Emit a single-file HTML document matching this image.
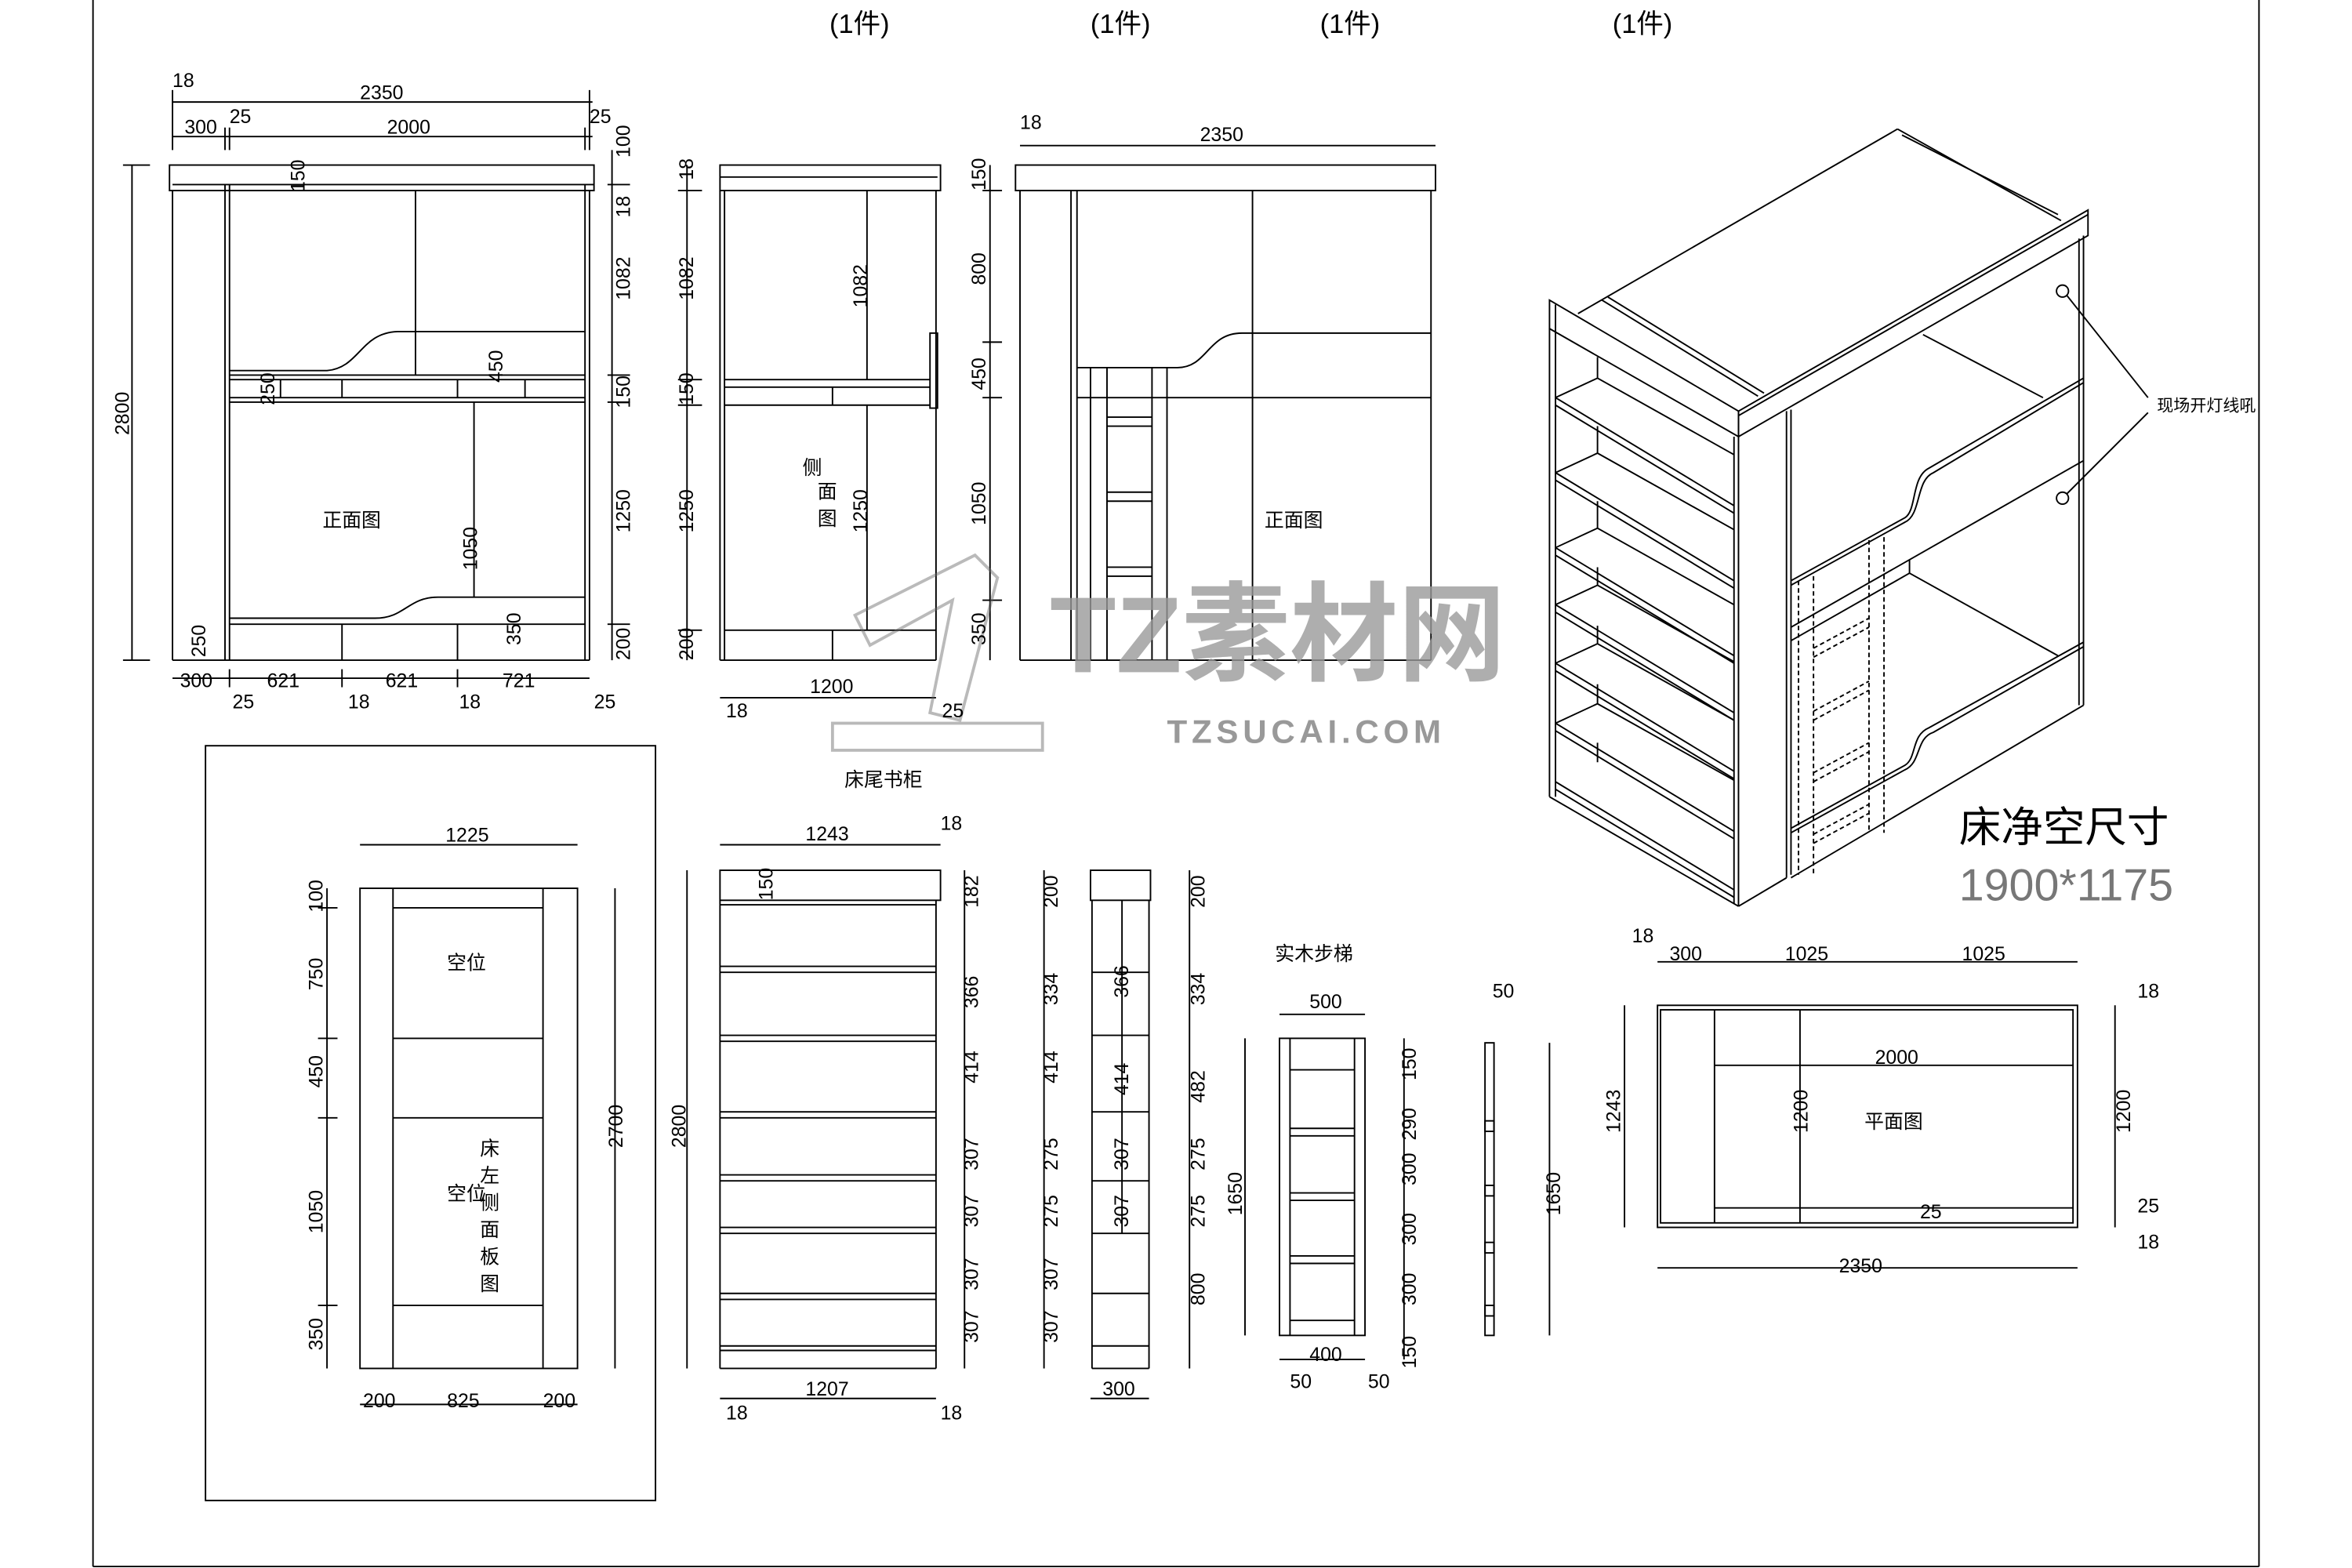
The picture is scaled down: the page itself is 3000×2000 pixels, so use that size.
<!DOCTYPE html>
<html><head><meta charset="utf-8"><style>
html,body{margin:0;padding:0;background:#fff;}
svg{display:block;}
text{font-family:"Liberation Sans","Noto Sans CJK SC",sans-serif;fill:#000;}
</style></head><body>
<svg width="3000" height="2000" viewBox="0 0 1568 1045" preserveAspectRatio="none" xmlns="http://www.w3.org/2000/svg">
<g fill="none" stroke="#000" stroke-width="1">
<!-- border -->
<line x1="62" y1="0" x2="62" y2="1044"/><line x1="1506" y1="0" x2="1506" y2="1044"/><line x1="62" y1="1044" x2="1506" y2="1044"/>

<!-- FRONT VIEW 1 -->
<rect x="113" y="110" width="283" height="17"/><line x1="115" y1="123" x2="396" y2="123"/>
<line x1="115" y1="127" x2="115" y2="440"/><line x1="150" y1="123" x2="150" y2="440"/><line x1="153" y1="123" x2="153" y2="440"/>
<line x1="390" y1="123" x2="390" y2="440"/><line x1="393" y1="127" x2="393" y2="440"/>
<line x1="115" y1="440" x2="393" y2="440"/>
<line x1="277" y1="127" x2="277" y2="250"/>
<path d="M153 247 H218 C240 245 240 222 265 221 H390"/>
<line x1="153" y1="250" x2="390" y2="250"/><line x1="153" y1="253" x2="390" y2="253"/><line x1="153" y1="265" x2="390" y2="265"/><line x1="153" y1="268" x2="390" y2="268"/>
<line x1="187" y1="253" x2="187" y2="265"/><line x1="228" y1="253" x2="228" y2="265"/><line x1="305" y1="253" x2="305" y2="265"/><line x1="350" y1="253" x2="350" y2="265"/>
<line x1="316" y1="268" x2="316" y2="398"/>
<path d="M153 412 H250 C270 412 272 398 292 398 H390"/>
<line x1="153" y1="416" x2="390" y2="416"/><line x1="228" y1="416" x2="228" y2="440"/><line x1="305" y1="416" x2="305" y2="440"/>
<line x1="115" y1="68" x2="395" y2="68"/><line x1="115" y1="91" x2="395" y2="91"/>
<line x1="115" y1="60" x2="115" y2="100"/><line x1="150" y1="85" x2="150" y2="100"/><line x1="153" y1="85" x2="153" y2="100"/><line x1="390" y1="85" x2="390" y2="100"/><line x1="393" y1="60" x2="393" y2="100"/>
<line x1="88" y1="110" x2="88" y2="440"/><line x1="82" y1="110" x2="100" y2="110"/><line x1="82" y1="440" x2="100" y2="440"/>
<line x1="408" y1="100" x2="408" y2="440"/><line x1="405" y1="123" x2="420" y2="123"/><line x1="405" y1="250" x2="420" y2="250"/><line x1="405" y1="268" x2="420" y2="268"/><line x1="405" y1="416" x2="420" y2="416"/>
<line x1="115" y1="452" x2="393" y2="452"/><line x1="153" y1="446" x2="153" y2="458"/><line x1="228" y1="446" x2="228" y2="458"/><line x1="305" y1="446" x2="305" y2="458"/>

<!-- SIDE VIEW -->
<rect x="480" y="110" width="147" height="17"/><line x1="480" y1="118" x2="625" y2="118"/>
<line x1="480" y1="127" x2="480" y2="440"/><line x1="483" y1="127" x2="483" y2="440"/><line x1="624" y1="127" x2="624" y2="440"/>
<line x1="480" y1="440" x2="624" y2="440"/>
<line x1="578" y1="127" x2="578" y2="253"/><line x1="578" y1="270" x2="578" y2="420"/>
<line x1="483" y1="253" x2="620" y2="253"/><line x1="483" y1="258" x2="620" y2="258"/><line x1="483" y1="270" x2="620" y2="270"/>
<line x1="555" y1="258" x2="555" y2="270"/>
<rect x="620" y="222" width="5" height="50"/>
<line x1="483" y1="420" x2="624" y2="420"/><line x1="555" y1="420" x2="555" y2="440"/>
<line x1="458" y1="110" x2="458" y2="440"/><line x1="452" y1="127" x2="468" y2="127"/><line x1="452" y1="253" x2="468" y2="253"/><line x1="452" y1="270" x2="468" y2="270"/><line x1="452" y1="420" x2="468" y2="420"/>
<line x1="480" y1="465" x2="624" y2="465"/>

<!-- FRONT VIEW 2 -->
<rect x="677" y="110" width="280" height="17"/>
<line x1="680" y1="127" x2="680" y2="440"/><line x1="714" y1="127" x2="714" y2="440"/><line x1="718" y1="127" x2="718" y2="440"/>
<line x1="954" y1="127" x2="954" y2="440"/><line x1="680" y1="440" x2="954" y2="440"/>
<line x1="835" y1="127" x2="835" y2="440"/>
<path d="M718 245 H785 C805 245 805 222 828 222 H954"/>
<line x1="718" y1="265" x2="954" y2="265"/>
<line x1="727" y1="245" x2="727" y2="440"/><line x1="738" y1="245" x2="738" y2="440"/><line x1="768" y1="245" x2="768" y2="440"/><line x1="778" y1="245" x2="778" y2="440"/>
<line x1="738" y1="278" x2="768" y2="278"/><line x1="738" y1="284" x2="768" y2="284"/>
<line x1="738" y1="328" x2="768" y2="328"/><line x1="738" y1="334" x2="768" y2="334"/>
<line x1="738" y1="378" x2="768" y2="378"/><line x1="738" y1="384" x2="768" y2="384"/>
<line x1="660" y1="110" x2="660" y2="440"/><line x1="655" y1="127" x2="668" y2="127"/><line x1="655" y1="228" x2="668" y2="228"/><line x1="655" y1="265" x2="668" y2="265"/><line x1="655" y1="400" x2="668" y2="400"/>
<line x1="680" y1="97" x2="957" y2="97"/>

<!-- ISOMETRIC -->
<!-- top face -->
<line x1="1052" y1="209" x2="1265" y2="86"/><line x1="1265" y1="86" x2="1374" y2="147"/>
<line x1="1268" y1="90" x2="1372" y2="143"/>
<line x1="1068" y1="200" x2="1172" y2="264"/><line x1="1072" y1="198" x2="1176" y2="262"/>
<!-- front slab -->
<polygon points="1033,200 1159,274 1159,291 1033,219"/>
<line x1="1037" y1="219" x2="1037" y2="203"/>
<!-- right slab -->
<polygon points="1159,274 1392,140 1392,157 1159,291"/>
<line x1="1159" y1="277" x2="1392" y2="143"/>
<!-- bookcase -->
<line x1="1033" y1="219" x2="1033" y2="531"/><line x1="1037" y1="219" x2="1037" y2="531"/>
<line x1="1033" y1="531" x2="1159" y2="604"/>
<line x1="1159" y1="291" x2="1159" y2="604"/><line x1="1156" y1="291" x2="1156" y2="602"/>
<g>
<path d="M1037 265 L1156 337 M1037 270 L1156 342 M1037 265 L1065 252 L1156 303 M1065 252 V238"/>
<path d="M1037 315 L1156 387 M1037 320 L1156 392 M1037 315 L1065 302 L1156 353 M1065 302 V284"/>
<path d="M1037 365 L1156 437 M1037 370 L1156 442 M1037 365 L1065 352 L1156 403 M1065 352 V334"/>
<path d="M1037 403 L1156 475 M1037 408 L1156 480 M1037 403 L1065 390 L1156 441 M1065 390 V378"/>
<path d="M1037 442 L1156 514 M1037 447 L1156 519 M1037 442 L1065 429 L1156 480 M1065 429 V417"/>
<path d="M1037 482 L1156 554 M1037 487 L1156 559 M1037 482 L1065 469 L1156 520 M1065 469 V456"/>
<path d="M1037 521 L1156 593 M1037 526 L1156 598 M1065 508 V495"/>
</g>
<!-- side panel -->
<line x1="1191" y1="274" x2="1191" y2="585"/><line x1="1194" y1="273" x2="1194" y2="583"/>
<line x1="1159" y1="604" x2="1191" y2="585"/>
<line x1="1386" y1="159" x2="1386" y2="470"/><line x1="1389" y1="157" x2="1389" y2="470"/>
<!-- upper rail -->
<path d="M1194 387 L1270 345 C1278 340 1274 318 1286 312 L1389 252"/>
<path d="M1194 390 L1270 348 C1281 343 1277 320 1289 315 L1389 255"/>
<line x1="1194" y1="418" x2="1389" y2="307"/><line x1="1194" y1="427" x2="1273" y2="382"/>
<line x1="1282" y1="223" x2="1362" y2="265"/>
<line x1="1273" y1="373" x2="1273" y2="382"/><line x1="1273" y1="382" x2="1372" y2="437"/>
<!-- lower rail -->
<path d="M1194 552 L1270 510 C1278 505 1274 490 1286 485 L1389 428"/>
<path d="M1194 555 L1270 513 C1281 508 1277 492 1289 488 L1389 431"/>
<line x1="1194" y1="585" x2="1389" y2="470"/>
<!-- ladder dashed -->
<g stroke-dasharray="3,2">
<line x1="1199" y1="387" x2="1199" y2="583"/><line x1="1209" y1="384" x2="1209" y2="583"/>
<line x1="1246" y1="360" x2="1246" y2="555"/><line x1="1256" y1="358" x2="1256" y2="555"/>
<line x1="1209" y1="432" x2="1246" y2="412"/><line x1="1209" y1="438" x2="1246" y2="418"/>
<line x1="1209" y1="474" x2="1246" y2="454"/><line x1="1209" y1="480" x2="1246" y2="460"/>
<line x1="1209" y1="515" x2="1246" y2="495"/><line x1="1209" y1="521" x2="1246" y2="501"/>
<line x1="1209" y1="556" x2="1246" y2="536"/><line x1="1209" y1="562" x2="1246" y2="542"/>
</g>
<circle cx="1375" cy="194" r="4"/><circle cx="1375" cy="332" r="4"/>
<line x1="1378" y1="197" x2="1432" y2="265"/><line x1="1378" y1="329" x2="1432" y2="275"/>

<!-- BOTTOM LEFT BOX -->
<rect x="137" y="497" width="300" height="503"/>
<rect x="240" y="592" width="145" height="320"/>
<line x1="262" y1="592" x2="262" y2="912"/><line x1="362" y1="592" x2="362" y2="912"/>
<line x1="262" y1="605" x2="362" y2="605"/><line x1="262" y1="692" x2="362" y2="692"/><line x1="262" y1="745" x2="362" y2="745"/><line x1="262" y1="870" x2="362" y2="870"/>
<line x1="218" y1="592" x2="218" y2="912"/><line x1="212" y1="605" x2="225" y2="605"/><line x1="212" y1="692" x2="225" y2="692"/><line x1="212" y1="745" x2="225" y2="745"/><line x1="212" y1="870" x2="225" y2="870"/>
<line x1="410" y1="592" x2="410" y2="912"/><line x1="240" y1="563" x2="385" y2="563"/><line x1="240" y1="936" x2="385" y2="936"/>

<!-- BOOKSHELF -->
<rect x="480" y="580" width="147" height="20"/>
<line x1="480" y1="600" x2="480" y2="912"/><line x1="624" y1="600" x2="624" y2="912"/><line x1="480" y1="912" x2="624" y2="912"/>
<line x1="480" y1="603" x2="624" y2="603"/>
<line x1="480" y1="644" x2="624" y2="644"/><line x1="480" y1="648" x2="624" y2="648"/>
<line x1="480" y1="690" x2="624" y2="690"/><line x1="480" y1="694" x2="624" y2="694"/>
<line x1="480" y1="741" x2="624" y2="741"/><line x1="480" y1="745" x2="624" y2="745"/>
<line x1="480" y1="783" x2="624" y2="783"/><line x1="480" y1="787" x2="624" y2="787"/>
<line x1="480" y1="818" x2="624" y2="818"/><line x1="480" y1="822" x2="624" y2="822"/>
<line x1="480" y1="862" x2="624" y2="862"/><line x1="480" y1="866" x2="624" y2="866"/>
<line x1="480" y1="897" x2="624" y2="897"/><line x1="480" y1="900" x2="624" y2="900"/>
<line x1="458" y1="580" x2="458" y2="912"/><line x1="480" y1="563" x2="627" y2="563"/><line x1="480" y1="932" x2="624" y2="932"/>
<line x1="643" y1="580" x2="643" y2="912"/><line x1="696" y1="580" x2="696" y2="912"/>
<rect x="727" y="580" width="40" height="20"/>
<line x1="728" y1="600" x2="728" y2="912"/><line x1="766" y1="600" x2="766" y2="912"/><line x1="728" y1="912" x2="766" y2="912"/>
<line x1="728" y1="648" x2="766" y2="648"/><line x1="728" y1="690" x2="766" y2="690"/><line x1="728" y1="741" x2="766" y2="741"/><line x1="728" y1="787" x2="766" y2="787"/><line x1="728" y1="822" x2="766" y2="822"/><line x1="728" y1="862" x2="766" y2="862"/><line x1="728" y1="897" x2="766" y2="897"/>
<line x1="748" y1="600" x2="748" y2="822"/>
<line x1="793" y1="580" x2="793" y2="912"/><line x1="727" y1="932" x2="766" y2="932"/>
<rect x="853" y="692" width="57" height="198"/><line x1="860" y1="692" x2="860" y2="890"/><line x1="903" y1="692" x2="903" y2="890"/>
<line x1="860" y1="713" x2="903" y2="713"/><line x1="860" y1="752" x2="903" y2="752"/><line x1="860" y1="757" x2="903" y2="757"/><line x1="860" y1="795" x2="903" y2="795"/><line x1="860" y1="800" x2="903" y2="800"/><line x1="860" y1="837" x2="903" y2="837"/><line x1="860" y1="842" x2="903" y2="842"/><line x1="860" y1="880" x2="903" y2="880"/>
<line x1="853" y1="676" x2="910" y2="676"/><line x1="853" y1="906" x2="910" y2="906"/>
<line x1="830" y1="692" x2="830" y2="890"/><line x1="936" y1="692" x2="936" y2="906"/>
<rect x="990" y="695" width="6" height="195"/>
<rect x="990" y="747" width="6" height="7"/><rect x="990" y="790" width="6" height="7"/><rect x="990" y="828" width="6" height="7"/><rect x="990" y="870" width="6" height="7"/>
<line x1="1033" y1="695" x2="1033" y2="890"/>
<rect x="1105" y="670" width="280" height="148"/><rect x="1107" y="673" width="275" height="142"/>
<line x1="1143" y1="673" x2="1143" y2="815"/><line x1="1200" y1="673" x2="1200" y2="815"/>
<line x1="1143" y1="710" x2="1382" y2="710"/><line x1="1143" y1="805" x2="1382" y2="805"/>
<line x1="1105" y1="641" x2="1385" y2="641"/><line x1="1105" y1="845" x2="1385" y2="845"/>
<line x1="1083" y1="670" x2="1083" y2="818"/><line x1="1410" y1="670" x2="1410" y2="818"/>
</g>

<!-- watermark -->
<g opacity="0.45" fill="none" stroke="#666" stroke-width="2">
<polygon points="570,410 650,370 665,385 640,480 620,475 635,400 580,430"/>
<rect x="555" y="482" width="140" height="18"/>
</g>
<text x="700" y="448" font-size="72" font-weight="bold" style="fill:#9a9a9a;opacity:.8">TZ素材网</text>
<text x="778" y="495" font-size="22" font-weight="bold" letter-spacing="3" style="fill:#999">TZSUCAI.COM</text>

<g font-size="13">
<text x="553" y="22" font-size="18">(1件)</text><text x="727" y="22" font-size="18">(1件)</text><text x="880" y="22" font-size="18">(1件)</text><text x="1075" y="22" font-size="18">(1件)</text>
<text x="115" y="58">18</text><text x="240" y="66">2350</text><text x="123" y="89">300</text><text x="153" y="82">25</text><text x="258" y="89">2000</text><text x="393" y="82">25</text>
<text x="215" y="351">正面图</text><text x="843" y="351">正面图</text>
<text x="535" y="316">侧</text><text x="535" y="332" dx="10">面</text><text x="545" y="350">图</text>
<text x="120" y="458">300</text><text x="178" y="458">621</text><text x="257" y="458">621</text><text x="335" y="458">721</text>
<text x="155" y="472">25</text><text x="232" y="472">18</text><text x="306" y="472">18</text><text x="396" y="472">25</text>
<text x="540" y="462">1200</text><text x="484" y="478">18</text><text x="628" y="478">25</text>
<text x="800" y="94">2350</text><text x="680" y="86">18</text>
<text x="563" y="524">床尾书柜</text>
<text x="1438" y="274" font-size="11">现场开灯线吼</text>
<text x="1306" y="561" font-size="28">床净空尺寸</text>
<text x="1306" y="600" font-size="30" style="fill:#777">1900*1175</text>
<text x="298" y="646">空位</text><text x="298" y="800">空位</text>
<text x="320" y="770">床</text><text x="320" y="788">左</text><text x="320" y="806">侧</text><text x="320" y="824">面</text><text x="320" y="842">板</text><text x="320" y="860">图</text>
<text x="297" y="561">1225</text><text x="242" y="938">200</text><text x="298" y="938">825</text><text x="362" y="938">200</text>
<text x="537" y="560">1243</text><text x="627" y="553">18</text><text x="537" y="930">1207</text><text x="484" y="946">18</text><text x="627" y="946">18</text>
<text x="735" y="930">300</text>
<text x="850" y="640">实木步梯</text><text x="873" y="672">500</text><text x="873" y="907">400</text><text x="860" y="925">50</text><text x="912" y="925">50</text>
<text x="995" y="665">50</text>
<text x="1088" y="628">18</text><text x="1113" y="640">300</text><text x="1190" y="640">1025</text><text x="1308" y="640">1025</text>
<text x="1250" y="709">2000</text><text x="1243" y="752">平面图</text><text x="1280" y="812">25</text><text x="1226" y="848">2350</text>
<text x="1425" y="665">18</text><text x="1425" y="808">25</text><text x="1425" y="832">18</text>
</g>
<g font-size="13">
<text transform="translate(86,290) rotate(-90)">2800</text>
<text transform="translate(420,200) rotate(-90)">1082</text><text transform="translate(420,105) rotate(-90)">100</text><text transform="translate(420,145) rotate(-90)">18</text>
<text transform="translate(335,255) rotate(-90)">450</text><text transform="translate(420,272) rotate(-90)">150</text><text transform="translate(420,355) rotate(-90)">1250</text><text transform="translate(420,440) rotate(-90)">200</text>
<text transform="translate(318,380) rotate(-90)">1050</text><text transform="translate(347,430) rotate(-90)">350</text><text transform="translate(137,438) rotate(-90)">250</text><text transform="translate(183,270) rotate(-90)">250</text><text transform="translate(203,128) rotate(-90)">150</text>
<text transform="translate(462,200) rotate(-90)">1082</text><text transform="translate(462,270) rotate(-90)">150</text><text transform="translate(462,355) rotate(-90)">1250</text><text transform="translate(462,440) rotate(-90)">200</text><text transform="translate(462,120) rotate(-90)">18</text>
<text transform="translate(578,205) rotate(-90)">1082</text><text transform="translate(578,355) rotate(-90)">1250</text>
<text transform="translate(657,127) rotate(-90)">150</text><text transform="translate(657,190) rotate(-90)">800</text><text transform="translate(657,260) rotate(-90)">450</text><text transform="translate(657,350) rotate(-90)">1050</text><text transform="translate(657,430) rotate(-90)">350</text>
<text transform="translate(215,608) rotate(-90)">100</text><text transform="translate(215,660) rotate(-90)">750</text><text transform="translate(215,725) rotate(-90)">450</text><text transform="translate(215,822) rotate(-90)">1050</text><text transform="translate(215,900) rotate(-90)">350</text><text transform="translate(415,765) rotate(-90)">2700</text>
<text transform="translate(457,765) rotate(-90)">2800</text>
<text transform="translate(515,600) rotate(-90)">150</text>
<text transform="translate(652,605) rotate(-90)">182</text><text transform="translate(652,672) rotate(-90)">366</text><text transform="translate(652,722) rotate(-90)">414</text><text transform="translate(652,780) rotate(-90)">307</text><text transform="translate(652,818) rotate(-90)">307</text><text transform="translate(652,860) rotate(-90)">307</text><text transform="translate(652,895) rotate(-90)">307</text>
<text transform="translate(705,605) rotate(-90)">200</text><text transform="translate(705,670) rotate(-90)">334</text><text transform="translate(705,722) rotate(-90)">414</text><text transform="translate(705,780) rotate(-90)">275</text><text transform="translate(705,818) rotate(-90)">275</text><text transform="translate(705,860) rotate(-90)">307</text><text transform="translate(705,895) rotate(-90)">307</text>
<text transform="translate(752,665) rotate(-90)">366</text><text transform="translate(752,730) rotate(-90)">414</text><text transform="translate(752,780) rotate(-90)">307</text><text transform="translate(752,818) rotate(-90)">307</text>
<text transform="translate(803,605) rotate(-90)">200</text><text transform="translate(803,670) rotate(-90)">334</text><text transform="translate(803,735) rotate(-90)">482</text><text transform="translate(803,780) rotate(-90)">275</text><text transform="translate(803,818) rotate(-90)">275</text><text transform="translate(803,870) rotate(-90)">800</text>
<text transform="translate(828,810) rotate(-90)">1650</text><text transform="translate(944,720) rotate(-90)">150</text><text transform="translate(944,760) rotate(-90)">290</text><text transform="translate(944,790) rotate(-90)">300</text><text transform="translate(944,830) rotate(-90)">300</text><text transform="translate(944,870) rotate(-90)">300</text><text transform="translate(944,912) rotate(-90)">150</text>
<text transform="translate(1040,810) rotate(-90)">1650</text>
<text transform="translate(1080,755) rotate(-90)">1243</text><text transform="translate(1205,755) rotate(-90)">1200</text><text transform="translate(1420,755) rotate(-90)">1200</text>
</g>
</svg>
</body></html>
